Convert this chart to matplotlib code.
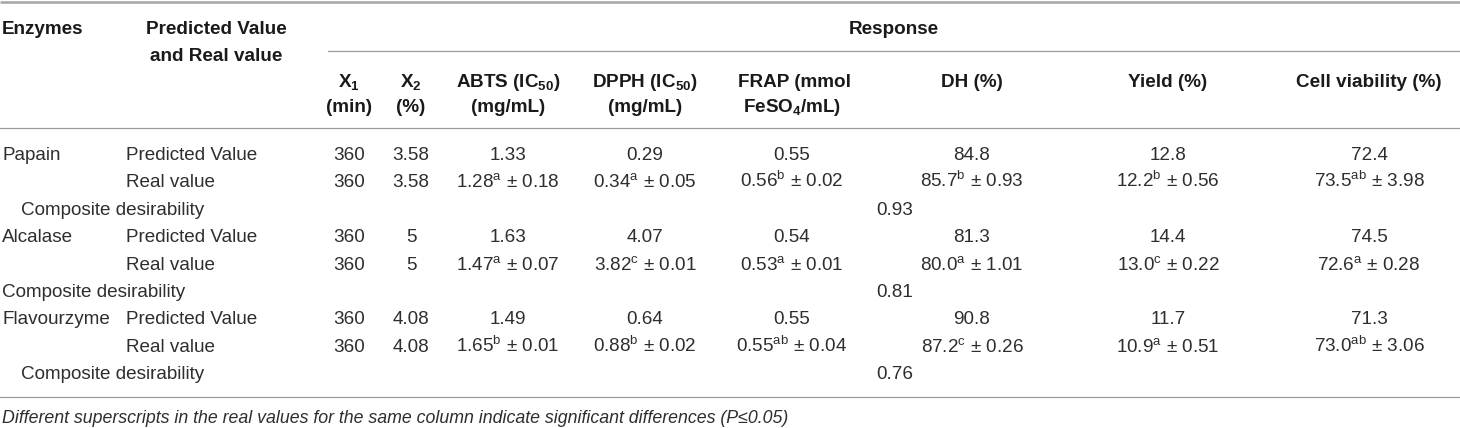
import matplotlib
matplotlib.use("Agg")
import matplotlib.pyplot as plt

# ---------------- data ----------------
enzymes = ["Papain", "Alcalase", "Flavourzyme"]
x1_min = [360, 360, 360]
x2_pct = ["3.58", "5", "4.08"]

abts_pred = [1.33, 1.63, 1.49]
abts_real = [1.28, 1.47, 1.65]
abts_sd = [0.18, 0.07, 0.01]
abts_sup = ["a", "a", "b"]

dpph_pred = [0.29, 4.07, 0.64]
dpph_real = [0.34, 3.82, 0.88]
dpph_sd = [0.05, 0.01, 0.02]
dpph_sup = ["a", "c", "b"]

frap_pred = [0.55, 0.54, 0.55]
frap_real = [0.56, 0.53, 0.55]
frap_sd = [0.02, 0.01, 0.04]
frap_sup = ["b", "a", "ab"]

dh_pred = [84.8, 81.3, 90.8]
dh_real = [85.7, 80.0, 87.2]
dh_sd = [0.93, 1.01, 0.26]
dh_sup = ["b", "a", "c"]

yield_pred = [12.8, 14.4, 11.7]
yield_real = [12.2, 13.0, 10.9]
yield_sd = [0.56, 0.22, 0.51]
yield_sup = ["b", "c", "a"]

cell_pred = [72.4, 74.5, 71.3]
cell_real = [73.5, 72.6, 73.0]
cell_sd = [3.98, 0.28, 3.06]
cell_sup = ["ab", "a", "ab"]

composite = [0.93, 0.81, 0.76]

footnote = ("Different superscripts in the real values for the same column "
            "indicate significant differences (P\u22640.05)")

# ---------------- style ----------------
FONT = "Liberation Sans"
plt.rcParams["font.family"] = [FONT, "DejaVu Sans"]
plt.rcParams["mathtext.fontset"] = "custom"
plt.rcParams["mathtext.rm"] = FONT
plt.rcParams["mathtext.it"] = FONT + ":italic"
plt.rcParams["mathtext.bf"] = FONT + ":bold"

W, H = 1460, 428
fig = plt.figure(figsize=(W / 100, H / 100), dpi=100)
ax = fig.add_axes([0, 0, 1, 1])
ax.set_xlim(0, W)
ax.set_ylim(H, 0)
ax.axis("off")

FS = 13.6
TXT = "#2e2e2e"
HDR = "#1a1a1a"
LINE = "#9a9a9a"
PX = 0.72  # points per pixel


def t(x, y, s, ha="left", bold=False, size=FS, italic=False, color=None):
    ax.text(x, y, s, ha=ha, va="baseline", fontsize=size,
            fontweight="bold" if bold else "normal",
            fontstyle="italic" if italic else "normal",
            color=color or (HDR if bold else TXT))


# rules
ax.plot([0, W], [1.5, 1.5], color="#a8a8a8", lw=2.6 * PX, solid_capstyle="butt")
ax.plot([328, W], [51, 51], color=LINE, lw=1.2 * PX)
ax.plot([0, W], [128, 128], color=LINE, lw=1.2 * PX)
ax.plot([0, W], [397, 397], color=LINE, lw=1.2 * PX)

# headers
t(2, 34, "Enzymes", bold=True)
t(216, 34, "Predicted Value", ha="center", bold=True)
t(216, 61, "and Real value", ha="center", bold=True)
t(894, 34, "Response", ha="center", bold=True)

cx = {"x1": 349, "x2": 411, "abts": 508, "dpph": 645, "frap": 792,
      "dh": 972, "yield": 1168, "cell": 1369}
r1, r2 = 87, 112
t(cx["x1"], r1, r"X$_{\mathbf{1}}$", ha="center", bold=True)
t(cx["x1"], r2, "(min)", ha="center", bold=True)
t(cx["x2"], r1, r"X$_{\mathbf{2}}$", ha="center", bold=True)
t(cx["x2"], r2, "(%)", ha="center", bold=True)
t(cx["abts"], r1, r"ABTS (IC$_{\mathbf{50}}$)", ha="center", bold=True)
t(cx["abts"], r2, "(mg/mL)", ha="center", bold=True)
t(cx["dpph"], r1, r"DPPH (IC$_{\mathbf{50}}$)", ha="center", bold=True)
t(cx["dpph"], r2, "(mg/mL)", ha="center", bold=True)
t(795, r1, "FRAP (mmol", ha="center", bold=True)
t(792, r2, r"FeSO$_{\mathbf{4}}$/mL)", ha="center", bold=True)
t(cx["dh"], r1, "DH (%)", ha="center", bold=True)
t(cx["yield"], r1, "Yield (%)", ha="center", bold=True)
t(cx["cell"], r1, "Cell viability (%)", ha="center", bold=True)

# body
y0, dy = 160, 27.4
comp_x = [21, 2, 21]


def real(v, sup, sd, nd):
    return f"{v:.{nd}f}" + r"$^{\mathrm{" + sup + r"}}$" + f" \u00b1 {sd:.2f}"


cols = [
    ("abts", abts_pred, abts_real, abts_sd, abts_sup, 2),
    ("dpph", dpph_pred, dpph_real, dpph_sd, dpph_sup, 2),
    ("frap", frap_pred, frap_real, frap_sd, frap_sup, 2),
    ("dh", dh_pred, dh_real, dh_sd, dh_sup, 1),
    ("yield", yield_pred, yield_real, yield_sd, yield_sup, 1),
    ("cell", cell_pred, cell_real, cell_sd, cell_sup, 1),
]

for i, enz in enumerate(enzymes):
    ya = y0 + dy * (3 * i)
    yb = ya + dy
    yc = yb + dy
    t(2, ya, enz)
    t(126, ya, "Predicted Value")
    t(126, yb, "Real value")
    t(comp_x[i], yc, "Composite desirability")
    for yy in (ya, yb):
        t(cx["x1"], yy, str(x1_min[i]), ha="center")
        t(cx["x2"], yy, x2_pct[i], ha="center")
    for key, pv, rv, sd, sp, nd in cols:
        t(cx[key], ya, f"{pv[i]:.{nd}f}", ha="center")
        t(cx[key], yb, real(rv[i], sp[i], sd[i], nd), ha="center")
    t(876, yc, f"{composite[i]:.2f}")

t(2, 423, footnote, italic=True, size=12.8)

fig.savefig("out.png", dpi=100)
